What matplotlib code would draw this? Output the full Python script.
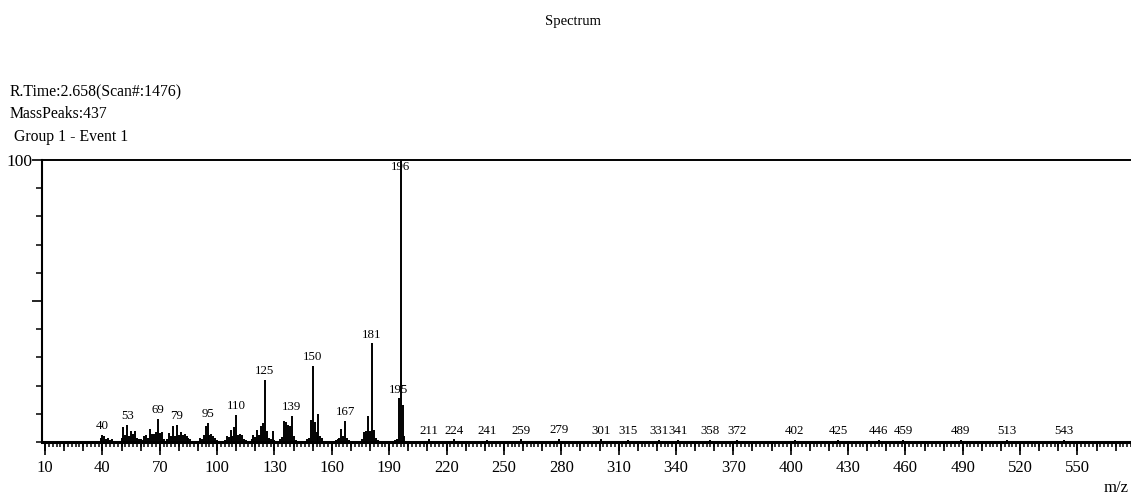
import matplotlib
matplotlib.use('Agg')

import matplotlib.pyplot as plt
from matplotlib.ticker import MultipleLocator

plt.rcParams['font.family'] = ['Liberation Serif', 'DejaVu Serif']

# ------------------------------------------------------------
# Datos del espectro (m/z, intensidad relativa %)
# ------------------------------------------------------------
mz = [39, 40, 41, 42, 43, 44, 45, 46,
      50, 51, 52, 53, 54, 55, 56, 57, 58, 59, 60,
      61, 62, 63, 64, 65, 66, 67, 68, 69, 70, 71, 72,
      74, 75, 76, 77, 78, 79, 80, 81, 82, 83, 84, 85, 86,
      91, 92, 93, 94, 95, 96, 97, 98, 99, 100, 101,
      104, 105, 106, 107, 108, 109, 110, 111, 112, 113, 114, 115,
      118, 119, 120, 121, 122, 123, 124, 125, 126, 127, 128, 129, 130, 131,
      133, 134, 135, 136, 137, 138, 139, 140, 141,
      147, 148, 149, 150, 151, 152, 153, 154, 155, 156,
      162, 163, 164, 165, 166, 167, 168, 169,
      175, 176, 177, 178, 179, 180, 181, 182, 183, 184,
      192, 193, 194, 195, 196, 197, 198, 199,
      211, 224, 241, 259, 279, 301, 315, 331, 341, 358, 372,
      402, 425, 446, 459, 489, 513, 543]
intensidad = [1.5, 2.6, 2.0, 1.0, 1.5, 0.8, 1.0, 0.5,
              1.5, 5.2, 2.5, 6.0, 2.0, 3.8, 2.8, 4.0, 1.5, 1.0, 1.2,
              0.8, 2.0, 2.5, 1.5, 4.5, 3.0, 2.8, 3.5, 8.3, 3.2, 3.4, 1.0,
              1.2, 3.2, 2.0, 5.6, 2.0, 6.0, 2.5, 3.5, 2.5, 2.8, 2.0, 1.5, 1.0,
              1.5, 1.0, 2.5, 5.5, 6.7, 2.5, 2.8, 2.0, 1.5, 0.8, 0.5,
              0.8, 2.2, 1.8, 4.2, 2.0, 5.4, 9.6, 2.5, 2.8, 2.5, 1.0, 0.8,
              1.0, 2.5, 1.8, 4.2, 2.5, 5.5, 6.8, 22.0, 4.0, 1.5, 1.2, 4.0, 0.8, 0.5,
              1.0, 1.8, 7.5, 7.0, 6.0, 5.5, 9.3, 2.0, 0.8,
              1.0, 1.5, 7.8, 27.0, 7.0, 3.5, 10.0, 2.0, 1.5, 0.5,
              0.8, 1.2, 1.5, 4.5, 2.0, 7.6, 1.5, 0.8,
              0.5, 1.0, 3.5, 3.8, 9.3, 3.8, 35.0, 4.3, 1.5, 0.6,
              0.5, 0.7, 1.0, 15.5, 100.0, 13.0, 2.0, 0.5,
              0.9, 0.9, 0.8, 0.9, 1.2, 0.9, 0.8, 0.8, 0.8, 0.8, 0.8,
              0.8, 0.8, 0.8, 0.8, 0.8, 0.8, 0.8]

etiquetas = [40, 53, 69, 79, 95, 110, 125, 139, 150, 167, 181, 195,
             211, 224, 241, 259, 279, 301, 315, 331, 341, 358, 372,
             402, 425, 446, 459, 489, 513, 543]
pico_base = 196

ticks_x = list(range(10, 578, 30))

# ------------------------------------------------------------
# Figura
# ------------------------------------------------------------
W, H = 1131, 496
fig = plt.figure(figsize=(W / 100, H / 100), dpi=100)
ax = fig.add_axes([42 / W, 54 / H, (W - 42) / W, 282 / H])

ax.vlines(mz, 0, intensidad, color='black', lw=1.4)

# Etiquetas de picos
lookup = dict(zip(mz, intensidad))
for m in etiquetas:
    ax.annotate(str(m), (m, lookup[m]), xytext=(0, 2), textcoords='offset points',
                ha='center', va='bottom', fontsize=9.3)
ax.text(pico_base, 99.6, str(pico_base), ha='center', va='top', fontsize=9.3)

ax.set_xlim(8.4, 578)
ax.set_ylim(0, 100)

ax.spines['right'].set_visible(False)
ax.spines['left'].set_linewidth(1.5)
ax.spines['top'].set_linewidth(1.4)
ax.spines['bottom'].set_linewidth(2.2)

# Eje X
ax.set_xticks(ticks_x)
ax.set_xticklabels([str(t) for t in ticks_x])
ax.xaxis.set_minor_locator(MultipleLocator(2))
ax.tick_params(axis='x', which='major', direction='out', length=9, width=1.2,
               labelsize=12, pad=4)
ax.tick_params(axis='x', which='minor', direction='out', length=3.5, width=1.1)

sec = ax.secondary_xaxis('bottom')
sec.set_xticks(list(range(10, 578, 10)))
sec.tick_params(axis='x', direction='out', length=6.5, width=1.2, labelbottom=False)
sec.spines['bottom'].set_visible(False)

# Eje Y
ax.set_yticks([50, 100])
ax.set_yticklabels(['', '100'])
ax.yaxis.set_minor_locator(MultipleLocator(10))
ax.tick_params(axis='y', which='major', direction='out', length=7, width=1.2,
               labelsize=12.5, pad=0)
ax.tick_params(axis='y', which='minor', direction='out', length=4.5, width=1.1)

# Textos
fig.text(573 / W, 1 - 22 / H, "Spectrum", ha='center', va='center', fontsize=10.5)
fig.text(10 / W, 1 - 92 / H, "R.Time:2.658(Scan#:1476)", ha='left', va='center', fontsize=11.3)
fig.text(10 / W, 1 - 114 / H, "MassPeaks:437", ha='left', va='center', fontsize=11.3)
fig.text(14 / W, 1 - 137 / H, "Group 1 - Event 1", ha='left', va='center', fontsize=11.3)
fig.text(1129 / W, 1 - 488 / H, "m/z", ha='right', va='center', fontsize=12)

fig.savefig("out.png", dpi=100)
